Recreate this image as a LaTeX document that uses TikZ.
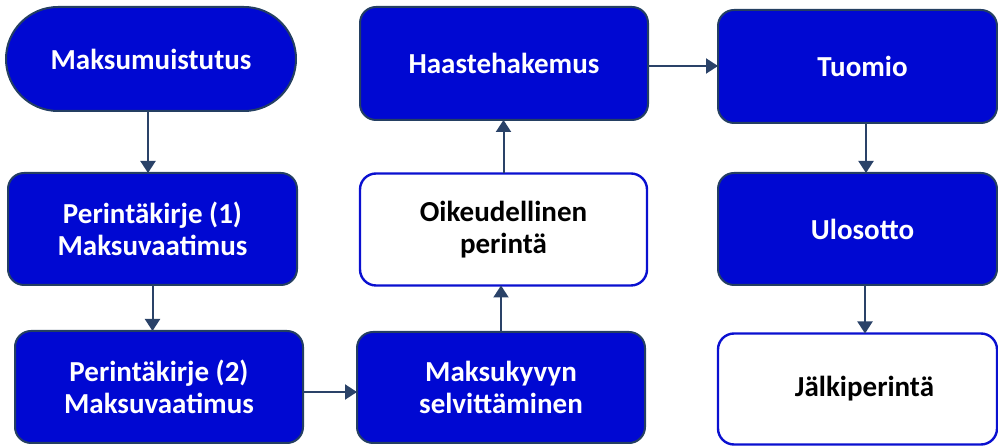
\documentclass[tikz,border=0pt]{standalone}
\usepackage{fontspec}
\setmainfont{Carlito}
\usetikzlibrary{arrows.meta,calc}
\definecolor{boxfill}{HTML}{0008D2}
\definecolor{boxline}{HTML}{243F62}
\definecolor{arrcol}{HTML}{2A4268}
\definecolor{wline}{HTML}{0A10D0}
\tikzset{
  basebox/.style={rectangle, rounded corners=16pt, inner sep=0pt, outer sep=0pt,
    align=center, font=\fontsize{29}{32}\selectfont\bfseries},
  bluebox/.style={basebox, fill=boxfill, draw=boxline, line width=2pt, text=white},
  whitebox/.style={basebox, fill=white, draw=wline, line width=2.4pt, text=black},
  arr/.style={draw=arrcol, line width=2pt, -{Triangle[width=15pt,length=12pt]}}
}
\begin{document}
\begin{tikzpicture}[x=1pt,y=1pt]
\useasboundingbox (0,0) rectangle (998,446);
% nodes
\node[bluebox, rounded corners=52pt, minimum width=290pt, minimum height=104pt] (mm) at (151,{446-59}) {Maksumuistutus};
\node[bluebox, minimum width=289pt, minimum height=112pt] (p1) at (152.5,{446-229}) {Perintäkirje (1)\\Maksuvaatimus};
\node[bluebox, minimum width=288pt, minimum height=112pt] (p2) at (159,{446-387}) {Perintäkirje (2)\\Maksuvaatimus};
\node[bluebox, minimum width=288pt, minimum height=111pt] (mk) at (501,{446-387.5}) {Maksukyvyn\\selvittäminen};
\node[whitebox, minimum width=287pt, minimum height=112pt] (op) at (503.5,{446-229.5}) {Oikeudellinen\\perintä};
\node[bluebox, minimum width=288pt, minimum height=113pt] (hh) at (504,{446-63.5}) {Haastehakemus};
\node[bluebox, minimum width=279pt, minimum height=113pt] (tu) at (857.5,{446-66.5}) {\hspace*{10pt}Tuomio};
\node[bluebox, minimum width=279pt, minimum height=112pt] (ul) at (857.5,{446-229}) {\hspace*{10pt}Ulosotto};
\node[whitebox, minimum width=279pt, minimum height=111pt] (jp) at (857.5,{446-389}) {\hspace*{14pt}Jälkiperintä};
% connectors
\draw[arr] ([xshift=-3pt]mm.south) -- ([xshift=-3pt]mm.south |- p1.north);
\draw[arr] (p1.south) -- (p1.south |- p2.north);
\draw[arr] ([yshift=-5pt]p2.east) -- ([yshift=-5pt]p2.east -| mk.west);
\draw[arr] (mk.north) -- (mk.north |- op.south);
\draw[arr] (op.north) -- (op.north |- hh.south);
\draw[arr] ([yshift=-2.5pt]hh.east) -- ([yshift=-2.5pt]hh.east -| tu.west);
\draw[arr] ([xshift=8.5pt]tu.south) -- ([xshift=8.5pt]tu.south |- ul.north);
\draw[arr] ([xshift=7.5pt]ul.south) -- ([xshift=7.5pt]ul.south |- jp.north);
\end{tikzpicture}
\end{document}
